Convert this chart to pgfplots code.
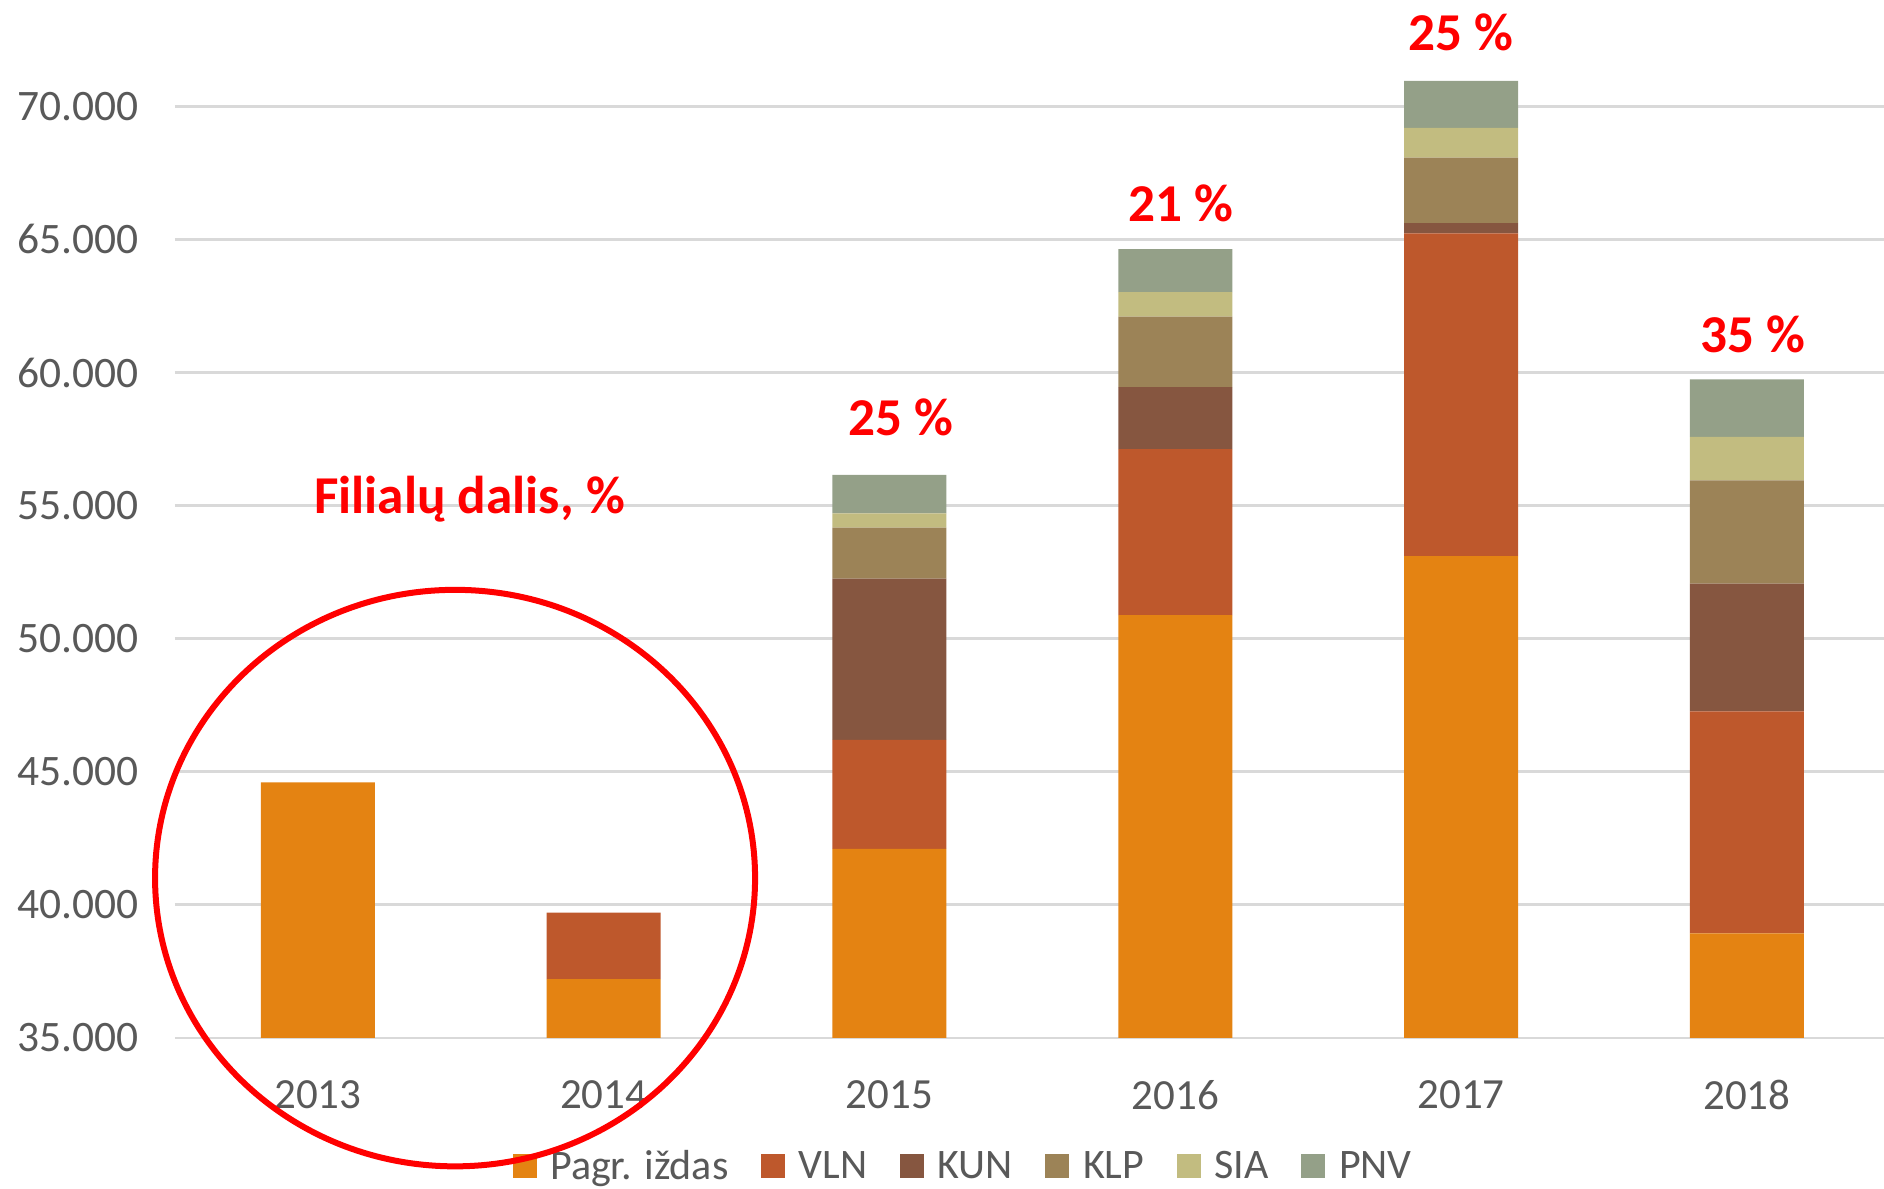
\documentclass[border=0pt]{standalone}
\usepackage{fontspec}
\setmainfont{Carlito}
\usepackage{pgfplots}
\pgfplotsset{compat=1.18}
\definecolor{cPagr}{RGB}{228,131,18}
\definecolor{cVLN}{RGB}{190,88,44}
\definecolor{cKUN}{RGB}{134,86,64}
\definecolor{cKLP}{RGB}{156,131,87}
\definecolor{cSIA}{RGB}{194,188,128}
\definecolor{cPNV}{RGB}{148,160,136}
\definecolor{tickgray}{RGB}{89,89,89}
\definecolor{gridgray}{RGB}{217,217,217}
\begin{document}
\begin{tikzpicture}
\begin{axis}[
  scale only axis, width=683.6pt, height=415.1pt,
  xmin=-0.5, xmax=5.48, ymin=35000, ymax=74000,
  ybar stacked, bar width=45.6pt,
  axis line style={draw=none},
  major tick length=0pt,
  xtick={0,1,2,3,4,5},
  xticklabels={2013,2014,2015,2016,2017,2018},
  ytick={35000,40000,45000,50000,55000,60000,65000,70000},
  scaled y ticks=false,
  yticklabel style={xshift=-11pt, font=\fontsize{17.4pt}{20pt}\selectfont, /pgf/number format/fixed, /pgf/number format/1000 sep={.}, /pgf/number format/assume math mode=true},
  ymajorgrids, grid style={color=gridgray, line width=1pt},
  tick label style={font=\fontsize{16.9pt}{20pt}\selectfont, text=tickgray},
  xticklabel style={yshift=-13.5pt, font=\fontsize{17.2pt}{20pt}\selectfont},
  legend style={draw=none, at={(0.462,-0.124)}, anchor=center,
    font=\fontsize{16.8pt}{20pt}\selectfont, text=tickgray,
    /tikz/every odd column/.append style={column sep=3.5pt},
    /tikz/every even column/.append style={column sep=11pt}},
  legend columns=-1,
  legend image code/.code={\fill[#1] (0pt,-4.8pt) rectangle (9.6pt,4.8pt);},
]
\addplot[fill=cPagr, draw=none] coordinates {(0,44600) (1,37200) (2,42100) (3,50880) (4,53100) (5,38920)};
\addplot[fill=cVLN, draw=none] coordinates {(0,0) (1,2500) (2,4090) (3,6240) (4,12130) (5,8350)};
\addplot[fill=cKUN, draw=none] coordinates {(0,0) (1,0) (2,6060) (3,2330) (4,380) (5,4800)};
\addplot[fill=cKLP, draw=none] coordinates {(0,0) (1,0) (2,1920) (3,2650) (4,2470) (5,3880)};
\addplot[fill=cSIA, draw=none] coordinates {(0,0) (1,0) (2,540) (3,920) (4,1110) (5,1630)};
\addplot[fill=cPNV, draw=none] coordinates {(0,0) (1,0) (2,1440) (3,1620) (4,1770) (5,2160)};
\legend{Pagr. iždas, VLN, KUN, KLP, SIA, PNV}
\coordinate (ell) at (axis cs:0.48,41000);
\coordinate (p15) at (axis cs:2.04,58330);
\coordinate (p16) at (axis cs:3.02,66340);
\coordinate (p17) at (axis cs:4.0,72800);
\coordinate (p18) at (axis cs:5.02,61450);
\coordinate (fil) at (axis cs:0.53,55250);
\end{axis}
\draw[red, line width=2.4pt] (ell) ellipse [x radius=120pt, y radius=115.3pt];
\begin{scope}[every node/.style={text=red, font=\bfseries\fontsize{21.3pt}{25pt}\selectfont, inner sep=0pt}]
\node at (p15) {25 \%};
\node at (p16) {21 \%};
\node at (p17) {25 \%};
\node at (p18) {35 \%};
\node at (fil) {Filialų dalis, \%};
\end{scope}
\pgfresetboundingbox
\path[use as bounding box] ([shift={(-70pt,-60.5pt)}]current axis.south west) rectangle (current axis.north east);
\end{tikzpicture}
\end{document}
